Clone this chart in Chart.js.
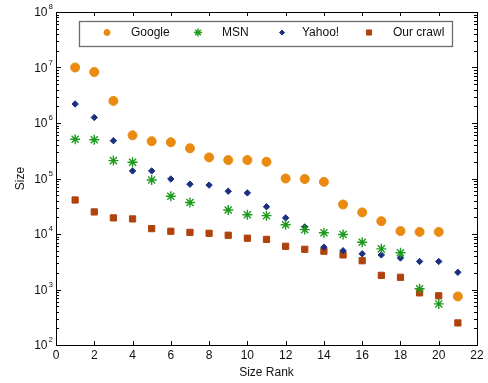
<!DOCTYPE html>
<html>
<head>
<meta charset="utf-8">
<script src="https://cdn.jsdelivr.net/npm/chart.js@4/dist/chart.umd.min.js"></script>
<style>
  html, body { margin: 0; padding: 0; background: #fff; }
  #wrap { width: 488px; height: 383px; }
</style>
</head>
<body>
<div id="wrap"><canvas id="chart" width="488" height="383"></canvas></div>
<script>
// Daten (Größe je Rang, log-Skala)
const ranks = [1, 2, 3, 4, 5, 6, 7, 8, 9, 10, 11, 12, 13, 14, 15, 16, 17, 18, 19, 20, 21];
const google = [1.0e7, 8.3e6, 2.5e6, 6.0e5, 4.7e5, 4.5e5, 3.5e5, 2.4e5, 2.15e5, 2.15e5, 2.0e5, 1.0e5, 9.8e4, 8.7e4, 3.4e4, 2.45e4, 1.7e4, 1.13e4, 1.09e4, 1.09e4, 750];
const msn = [5.1e5, 5.0e5, 2.1e5, 1.96e5, 9.4e4, 4.8e4, 3.7e4, null, 2.7e4, 2.22e4, 2.14e4, 1.47e4, 1.2e4, 1.05e4, 9.8e3, 7.1e3, 5.4e3, 4.6e3, 1.03e3, 550, null];
const yahoo = [2.2e6, 1.26e6, 4.8e5, 1.37e5, 1.37e5, 9.8e4, 7.9e4, 7.6e4, 5.9e4, 5.5e4, 3.1e4, 1.95e4, 1.34e4, 5.8e3, 5.0e3, 4.4e3, 4.2e3, 3.7e3, 3.2e3, 3.2e3, 2.04e3];
const crawl = [4.1e4, 2.5e4, 1.95e4, 1.87e4, 1.25e4, 1.12e4, 1.07e4, 1.03e4, 9.5e3, 8.4e3, 8.0e3, 6.0e3, 5.3e3, 4.9e3, 4.2e3, 3.3e3, 1.8e3, 1.66e3, 870, 770, 250];

const seriesNames = ['Google', 'MSN', 'Yahoo!', 'Our crawl'];
const xTicks = [0, 2, 4, 6, 8, 10, 12, 14, 16, 18, 20, 22];
const yExponents = [2, 3, 4, 5, 6, 7, 8];

const FONT = '"Liberation Sans", Arial, sans-serif';
const punkte = (werte) => ranks.map((r, i) => ({ x: r, y: werte[i] })).filter((p) => p.y !== null);

const stile = [
  { pointStyle: 'circle', radius: 4.5, color: '#ea8a10', bw: 1, legR: 3 },
  { pointStyle: 'star', radius: 5, color: '#1e9a1e', bw: 1.4, legR: 4 },
  { pointStyle: 'rectRot', radius: 3.2, color: '#1b2f80', bw: 1, legR: 2.5 },
  { pointStyle: 'rect', radius: 4.4, color: '#b0420c', bw: 1, legR: 3.6 },
];
const reihen = [google, msn, yahoo, crawl];

// Rahmen, nach innen zeigende Ticks, 10^n-Beschriftung und Legende mit Kasten
const rahmen = {
  id: 'rahmen',
  beforeDatasetsDraw(chart) {
    const { ctx, chartArea: a, scales } = chart;
    ctx.save();
    ctx.strokeStyle = '#000';
    ctx.lineWidth = 1;
    ctx.strokeRect(a.left + 0.5, a.top + 0.5, a.right - a.left, a.bottom - a.top);
    ctx.beginPath();
    for (const t of xTicks) {
      const px = Math.round(scales.x.getPixelForValue(t)) + 0.5;
      ctx.moveTo(px, a.bottom); ctx.lineTo(px, a.bottom - 4);
      ctx.moveTo(px, a.top); ctx.lineTo(px, a.top + 4);
    }
    for (const e of yExponents) {
      const py = Math.round(scales.y.getPixelForValue(Math.pow(10, e))) + 0.5;
      ctx.moveTo(a.left, py); ctx.lineTo(a.left + 5, py);
      ctx.moveTo(a.right, py); ctx.lineTo(a.right - 5, py);
      if (e === yExponents[yExponents.length - 1]) continue;
      for (let m = 2; m <= 9; m++) {
        const my = Math.round(scales.y.getPixelForValue(m * Math.pow(10, e))) + 0.5;
        ctx.moveTo(a.left, my); ctx.lineTo(a.left + 3, my);
        ctx.moveTo(a.right, my); ctx.lineTo(a.right - 3, my);
      }
    }
    ctx.stroke();
    ctx.restore();
  },
  afterDraw(chart) {
    const { ctx, scales } = chart;
    ctx.save();
    ctx.fillStyle = '#111';
    for (const e of yExponents) {
      const py = scales.y.getPixelForValue(Math.pow(10, e));
      ctx.font = '12px ' + FONT;
      ctx.textAlign = 'right';
      ctx.textBaseline = 'middle';
      ctx.fillText('10', 47.5, py + 1);
      ctx.font = '8px ' + FONT;
      ctx.textAlign = 'left';
      ctx.fillText(String(e), 48.5, py - 5);
    }

    // Legende
    const box = { x: 79, y: 21, w: 373, h: 25 };
    ctx.fillStyle = '#fff';
    ctx.fillRect(box.x, box.y, box.w, box.h);
    ctx.strokeStyle = '#6b6b6b';
    ctx.lineWidth = 1.3;
    ctx.strokeRect(box.x + 0.5, box.y + 0.5, box.w, box.h);
    const markerX = [107, 198, 282, 369];
    const textX = [131, 222, 302, 393];
    const my = 32.5;
    seriesNames.forEach((name, i) => {
      const s = stile[i];
      ctx.fillStyle = s.color;
      ctx.strokeStyle = s.color;
      ctx.lineWidth = s.bw;
      if (Chart.helpers && Chart.helpers.drawPoint) {
        Chart.helpers.drawPoint(ctx, { pointStyle: s.pointStyle, radius: s.legR, rotation: 0, borderWidth: s.bw }, markerX[i], my);
      }
      ctx.fillStyle = '#111';
      ctx.font = '12px ' + FONT;
      ctx.textAlign = 'left';
      ctx.textBaseline = 'middle';
      ctx.fillText(name, textX[i], my);
    });
    ctx.restore();
  },
};

new Chart(document.getElementById('chart').getContext('2d'), {
  type: 'scatter',
  data: {
    datasets: reihen.map((werte, i) => ({
      label: seriesNames[i],
      data: punkte(werte),
      pointStyle: stile[i].pointStyle,
      pointRadius: stile[i].radius,
      pointHoverRadius: stile[i].radius,
      pointBackgroundColor: stile[i].color,
      pointBorderColor: stile[i].color,
      pointBorderWidth: stile[i].bw,
      showLine: false,
    })),
  },
  options: {
    responsive: false,
    animation: false,
    events: [],
    layout: { padding: { top: 12, right: 11, left: 0, bottom: 0 } },
    plugins: { legend: { display: false }, tooltip: { enabled: false } },
    scales: {
      x: {
        type: 'linear', min: 0, max: 22,
        afterFit: (s) => { s.height = 38; },
        grid: { display: false, drawTicks: false },
        border: { display: false },
        ticks: { stepSize: 2, padding: 3, color: '#111', font: { family: FONT, size: 12 } },
        title: { display: true, text: 'Size Rank', color: '#111', font: { family: FONT, size: 12 }, padding: { top: 0, bottom: 3 } },
      },
      y: {
        type: 'logarithmic', min: 100, max: 1e8,
        afterFit: (s) => { s.width = 56; },
        grid: { display: false, drawTicks: false },
        border: { display: false },
        ticks: { display: false },
        title: { display: true, text: 'Size', color: '#111', font: { family: FONT, size: 12 }, padding: { top: 13, bottom: 0 } },
      },
    },
  },
  plugins: [rahmen],
});
</script>
</body>
</html>
